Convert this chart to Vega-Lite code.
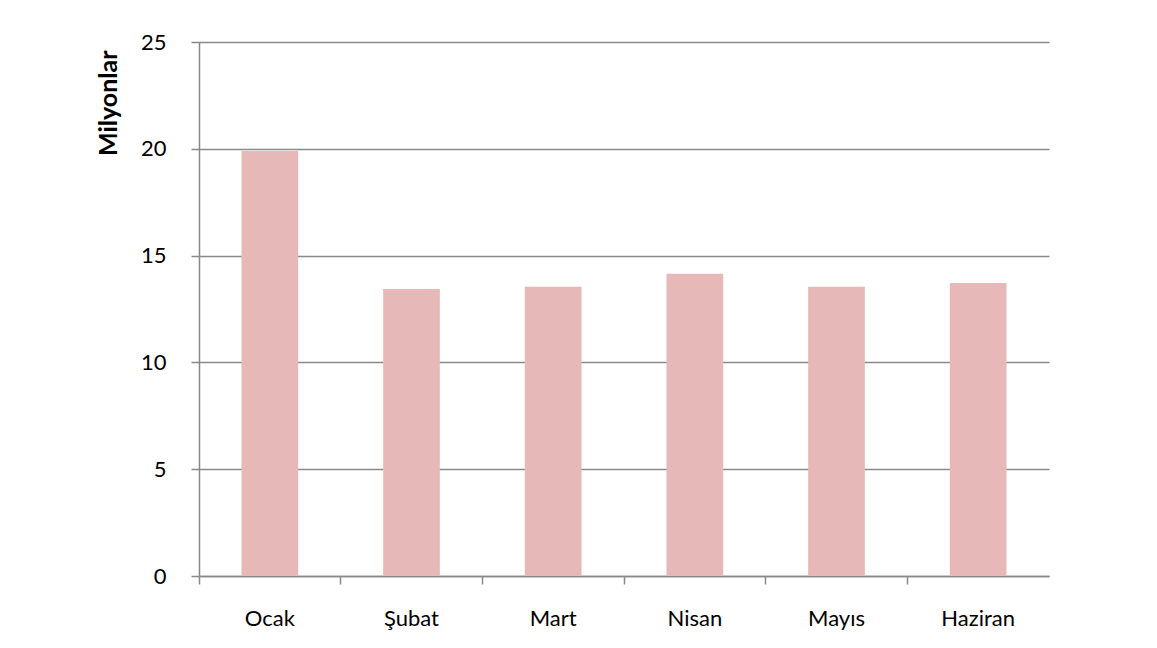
{
  "$schema": "https://vega.github.io/schema/vega-lite/v6.json",
  "autosize": "none",
  "padding": {"left": 199, "top": 42, "right": 108, "bottom": 72},
  "width": 850,
  "height": 534,
  "background": "white",
  "data": {
    "values": [
      {"ay": "Ocak", "deger": 19.9},
      {"ay": "Şubat", "deger": 13.44},
      {"ay": "Mart", "deger": 13.54},
      {"ay": "Nisan", "deger": 14.15},
      {"ay": "Mayıs", "deger": 13.54},
      {"ay": "Haziran", "deger": 13.72}
    ]
  },
  "mark": {"type": "bar", "color": "#E6B8B7", "width": {"band": 0.4}},
  "encoding": {
    "x": {
      "field": "ay",
      "type": "nominal",
      "sort": null,
      "scale": {"paddingInner": 0, "paddingOuter": 0},
      "axis": {
        "title": null,
        "labelAngle": 0,
        "bandPosition": 0,
        "labelFont": "Lato",
        "labelFontSize": 22,
        "labelColor": "#000000",
        "labelPadding": 24,
        "tickSize": 8,
        "tickColor": "#888888",
        "tickWidth": 1.5,
        "domainColor": "#888888",
        "domainWidth": 1.5,
        "grid": false
      }
    },
    "y": {
      "field": "deger",
      "type": "quantitative",
      "scale": {"domain": [0, 25], "nice": false},
      "axis": {
        "values": [0, 5, 10, 15, 20, 25],
        "title": "Milyonlar",
        "titleFont": "Lato",
        "titleFontSize": 25,
        "titleFontWeight": "bold",
        "titleColor": "#000000",
        "titleAngle": 270,
        "titleX": -91,
        "titleY": 8,
        "titleAlign": "right",
        "titleBaseline": "middle",
        "labelFont": "Lato",
        "labelFontSize": 22,
        "labelColor": "#000000",
        "labelPadding": 25,
        "tickSize": 8,
        "tickColor": "#888888",
        "tickWidth": 1.5,
        "domainColor": "#888888",
        "domainWidth": 1.5,
        "grid": true,
        "gridColor": "#888888",
        "gridWidth": 1.5
      }
    }
  },
  "config": {"view": {"stroke": null}}
}
